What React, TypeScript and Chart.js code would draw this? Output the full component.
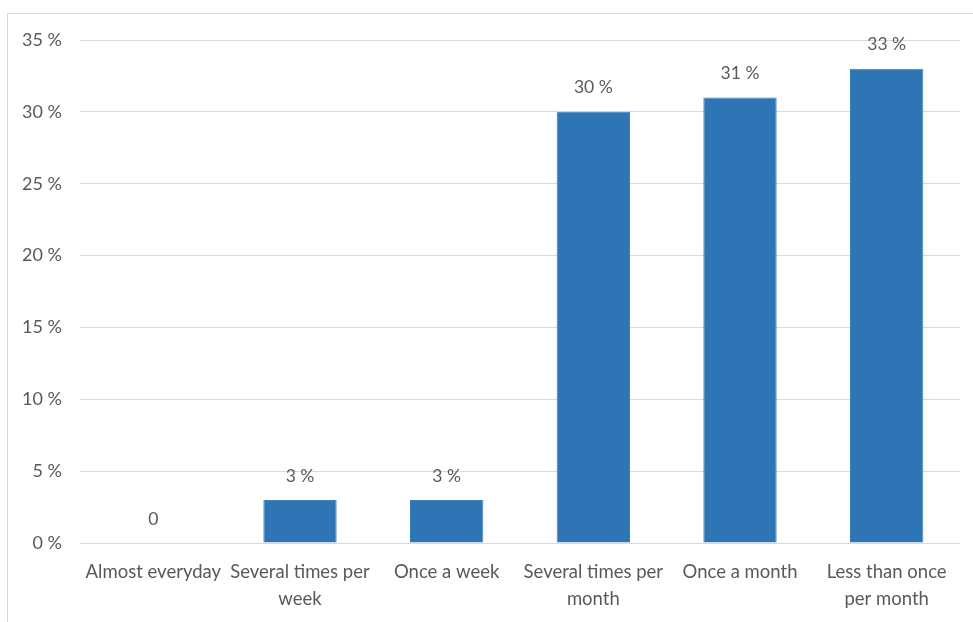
import React, { useEffect, useRef } from "react";
import { Chart, registerables } from "chart.js";

Chart.register(...registerables);

const categories: (string | string[])[] = [
  "Almost everyday",
  ["Several times per", "week"],
  "Once a week",
  ["Several times per", "month"],
  "Once a month",
  ["Less than once", "per month"],
];
const values = [0, 3, 3, 30, 31, 33];
const valueLabels = ["0", "3 %", "3 %", "30 %", "31 %", "33 %"];
const yTicks = [0, 5, 10, 15, 20, 25, 30, 35];

const FONT = "Lato, 'Open Sans', sans-serif";
const TEXT = "#595959";

const labelPlugin = {
  id: "valueLabels",
  afterDatasetsDraw(chart: any) {
    const ctx = chart.ctx;
    const meta = chart.getDatasetMeta(0);
    ctx.save();
    ctx.font = `17.5px ${FONT}`;
    ctx.fillStyle = TEXT;
    ctx.textAlign = "center";
    ctx.textBaseline = "middle";
    meta.data.forEach((bar: any, i: number) => {
      ctx.fillText(valueLabels[i], bar.x, bar.y - 24);
    });
    ctx.restore();
  },
};

export default function App() {
  const ref = useRef<HTMLCanvasElement | null>(null);
  useEffect(() => {
    if (!ref.current) return;
    const chart = new Chart(ref.current, {
      type: "bar",
      data: {
        labels: categories,
        datasets: [
          {
            data: values,
            backgroundColor: "#2E75B6",
            borderColor: "#3B80BE",
            borderWidth: 1,
            barPercentage: 0.5,
            categoryPercentage: 1,
          },
        ],
      },
      options: {
        animation: false,
        responsive: false,
        layout: { padding: { top: 26, right: 13, left: 0, bottom: 0 } },
        plugins: { legend: { display: false }, tooltip: { enabled: false } },
        scales: {
          x: {
            grid: { display: false, drawTicks: false },
            border: { display: false },
            ticks: {
              color: TEXT,
              font: { family: FONT, size: 18.5, lineHeight: 1.45 },
              padding: 16,
              maxRotation: 0,
              autoSkip: false,
            },
            afterFit: (s: any) => {
              s.height = 79;
            },
          },
          y: {
            min: 0,
            max: 35,
            afterBuildTicks: (s: any) => {
              s.ticks = yTicks.map((v) => ({ value: v }));
            },
            grid: { color: "#d9d9d9", lineWidth: 1, drawTicks: false },
            border: { display: false },
            ticks: {
              color: TEXT,
              font: { family: FONT, size: 18, lineHeight: 1 },
              padding: 18,
              callback: (v: any) => `${v} %`,
            },
            afterFit: (s: any) => {
              s.width = 72;
              s.paddingTop = 0;
              s.paddingBottom = 0;
            },
          },
        },
      },
      plugins: [labelPlugin],
    });
    return () => chart.destroy();
  }, []);

  return (
    <div
      style={{
        position: "fixed",
        left: 7,
        top: 13,
        width: 1000,
        height: 700,
        border: "1px solid #d9d9d9",
        background: "#fff",
      }}
    >
      <canvas ref={ref} width={965} height={608} style={{ display: "block" }} />
    </div>
  );
}
